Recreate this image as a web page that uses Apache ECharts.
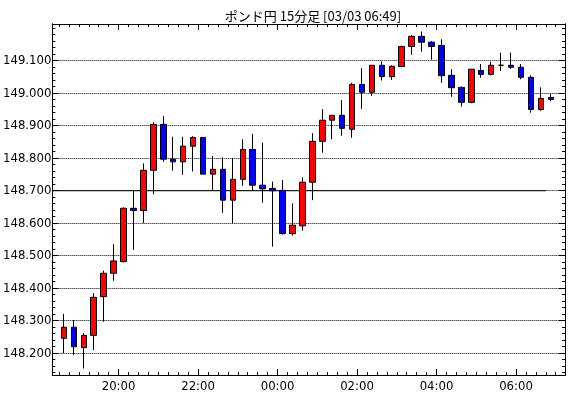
<!DOCTYPE html>
<html>
<head>
<meta charset="utf-8">
<title>ポンド円 15分足</title>
<script src="https://cdn.jsdelivr.net/npm/echarts@6/dist/echarts.min.js"></script>
<style>
    html, body { margin: 0; padding: 0; background: #fff; }
    #chart { width: 570px; height: 398px; }
</style>
</head>
<body>
<div id="chart"></div>
<script>
    // 15分足 ローソク足データ
    var times = ['18:30', '18:45', '19:00', '19:15', '19:30', '19:45', '20:00', '20:15', '20:30', '20:45',
        '21:00', '21:15', '21:30', '21:45', '22:00', '22:15', '22:30', '22:45', '23:00', '23:15',
        '23:30', '23:45', '00:00', '00:15', '00:30', '00:45', '01:00', '01:15', '01:30', '01:45',
        '02:00', '02:15', '02:30', '02:45', '03:00', '03:15', '03:30', '03:45', '04:00', '04:15',
        '04:30', '04:45', '05:00', '05:15', '05:30', '05:45', '06:00', '06:15', '06:30', '06:45'];
    var opens = [148.246, 148.280, 148.217, 148.255, 148.374, 148.446, 148.482, 148.646, 148.639, 148.763,
        148.904, 148.797, 148.789, 148.837, 148.864, 148.751, 148.766, 148.671, 148.735, 148.827,
        148.717, 148.707, 148.701, 148.568, 148.592, 148.726, 148.852, 148.917, 148.932, 148.889,
        149.027, 149.003, 149.086, 149.051, 149.082, 149.144, 149.175, 149.157, 149.147, 149.055,
        149.018, 148.972, 149.070, 149.058, 149.086, 149.086, 149.080, 149.049, 148.950, 148.987];
    var closes = [148.280, 148.220, 148.255, 148.372, 148.446, 148.484, 148.646, 148.639, 148.763, 148.904,
        148.797, 148.789, 148.837, 148.864, 148.751, 148.766, 148.671, 148.735, 148.827, 148.717,
        148.706, 148.700, 148.568, 148.594, 148.726, 148.852, 148.917, 148.932, 148.892, 149.027,
        149.003, 149.086, 149.051, 149.083, 149.144, 149.175, 149.157, 149.144, 149.054, 149.017,
        148.972, 149.074, 149.058, 149.086, 149.086, 149.080, 149.049, 148.950, 148.984, 148.981];
    var lows = [148.200, 148.194, 148.153, 148.210, 148.297, 148.423, 148.479, 148.518, 148.600, 148.689,
        148.789, 148.762, 148.749, 148.759, 148.751, 148.699, 148.632, 148.600, 148.715, 148.700,
        148.663, 148.528, 148.565, 148.562, 148.577, 148.671, 148.817, 148.858, 148.869, 148.863,
        148.952, 148.992, 149.039, 149.041, 149.082, 149.118, 149.128, 149.103, 149.032, 148.989,
        148.959, 148.969, 149.048, 149.055, 149.069, 149.075, 149.043, 148.940, 148.946, 148.975];
    var highs = [148.321, 148.302, 148.262, 148.385, 148.454, 148.536, 148.649, 148.702, 148.784, 148.911,
        148.930, 148.866, 148.866, 148.868, 148.864, 148.807, 148.803, 148.800, 148.858, 148.875,
        148.848, 148.728, 148.733, 148.661, 148.741, 148.877, 148.951, 148.932, 148.979, 149.032,
        149.077, 149.086, 149.098, 149.086, 149.146, 149.179, 149.190, 149.160, 149.166, 149.074,
        149.021, 149.074, 149.090, 149.097, 149.125, 149.125, 149.090, 149.055, 149.018, 148.998];
    var refLevel = 148.700;
    var xMajorLabels = ['20:00', '22:00', '00:00', '02:00', '04:00', '06:00'];
    var yMajorTicks = [148.2, 148.3, 148.4, 148.5, 148.6, 148.7, 148.8, 148.9, 149.0, 149.1];

    // 18:00 からの経過分に変換
    function toMinutes(t) {
        var p = t.split(':');
        var h = parseInt(p[0], 10);
        if (h < 12) h += 24;
        return (h - 18) * 60 + parseInt(p[1], 10);
    }
    function fmtTime(v) {
        var m = Math.round(v) + 18 * 60;
        var h = Math.floor(m / 60) % 24;
        var mm = m % 60;
        return (h < 10 ? '0' : '') + h + ':' + (mm < 10 ? '0' : '') + mm;
    }

    var xMin = 20, xMax = 794;
    var yMin = 148.133, yMax = 149.213;

    var candleData = [];
    for (var i = 0; i < times.length; i++) {
        // ローソクは足の中央に描く
        candleData.push([toMinutes(times[i]) + 7.5, opens[i], closes[i], lows[i], highs[i]]);
    }

    var xMinor = [];
    for (var m = 30; m <= 780; m += 15) xMinor.push(m);
    var xMajor = xMajorLabels.map(toMinutes);
    var yMinor = [];
    for (var k = 7; k <= 60; k++) yMinor.push(+(148 + k * 0.02).toFixed(2));

    var axisFont = "'Liberation Sans Narrow', 'DejaVu Sans Condensed', sans-serif";
    var black = '#000';

    function xAxisDef(pos, ticks, len, showLabel) {
        return {
            type: 'value', position: pos, min: xMin, max: xMax,
            axisLine: { show: true, lineStyle: { color: black, width: 1 } },
            axisTick: { show: true, inside: true, length: len, customValues: ticks, lineStyle: { color: black } },
            axisLabel: showLabel ? {
                show: true, customValues: ticks, margin: 5, color: black, fontSize: 13,
                fontFamily: axisFont, formatter: fmtTime
            } : { show: false },
            splitLine: { show: false }
        };
    }
    function yAxisDef(pos, ticks, len, showLabel) {
        return {
            type: 'value', position: pos, min: yMin, max: yMax,
            axisLine: { show: true, lineStyle: { color: black, width: 1 } },
            axisTick: { show: true, inside: true, length: len, customValues: ticks, lineStyle: { color: black } },
            axisLabel: showLabel ? {
                show: true, customValues: ticks, margin: 1, color: black, fontSize: 13,
                fontFamily: axisFont, formatter: function (v) { return v.toFixed(3); }
            } : { show: false },
            splitLine: showLabel ? { show: true, lineStyle: { color: black, width: 1, type: [1, 1] } } : { show: false }
        };
    }

    var chart = echarts.init(document.getElementById('chart'));
    var theOptions = {
        animation: false,
        backgroundColor: '#fff',
        title: {
            text: 'ポンド円 15分足 [03/03 06:49]',
            left: 308, top: 5, textAlign: 'center',
            textStyle: { fontFamily: "'Noto Sans CJK JP', sans-serif", fontSize: 13, fontWeight: 'normal', color: black }
        },
        grid: { left: 49, right: 5, top: 24, bottom: 23 },
        xAxis: [
            xAxisDef('bottom', xMinor, 3, false),
            xAxisDef('bottom', xMajor, 6, true),
            xAxisDef('top', xMinor, 3, false),
            xAxisDef('top', xMajor, 6, false)
        ],
        yAxis: [
            yAxisDef('left', yMinor, 3, false),
            yAxisDef('left', yMajorTicks, 6, true),
            yAxisDef('right', yMinor, 3, false),
            yAxisDef('right', yMajorTicks, 6, false)
        ],
        series: [
            {
                // 基準線
                type: 'line', z: 1, silent: true, showSymbol: false,
                xAxisIndex: 0, yAxisIndex: 0,
                data: [[xMin, refLevel], [toMinutes(times[times.length - 1]), refLevel]],
                lineStyle: { color: black, width: 1 }
            },
            {
                type: 'candlestick', z: 2, silent: true,
                xAxisIndex: 0, yAxisIndex: 0,
                barWidth: 6,
                encode: { x: 0, y: [1, 2, 3, 4] },
                data: candleData,
                itemStyle: {
                    color: '#ff0000', color0: '#0000ff',
                    borderColor: black, borderColor0: black, borderColorDoji: black,
                    borderWidth: 1
                }
            }
        ]
    };
    chart.setOption(theOptions);
</script>
</body>
</html>
